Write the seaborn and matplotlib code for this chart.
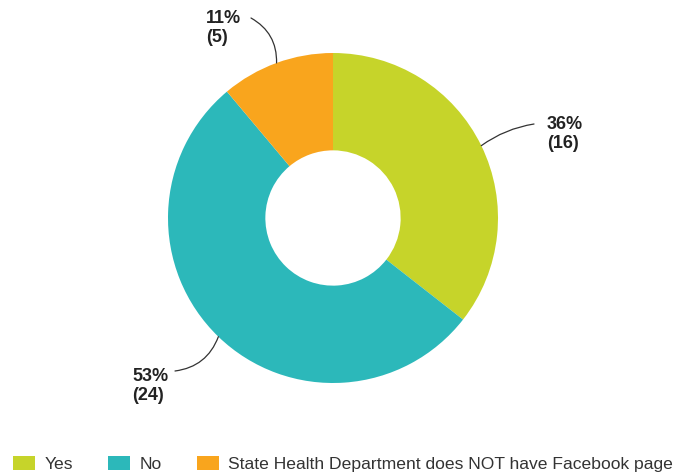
import numpy as np
import matplotlib
matplotlib.use("Agg")
import matplotlib.pyplot as plt
import seaborn as sns
from matplotlib.patches import Patch

sns.set_theme(style="white")
plt.rcParams['font.family'] = ['Liberation Sans', 'DejaVu Sans']

categories = ["Yes", "No", "State Health Department does NOT have Facebook page"]
counts = [16, 24, 5]
percents = [36, 53, 11]
colors = ["#c6d42a", "#2cb8ba", "#f9a51d"]

W, H = 683, 475
fig = plt.figure(figsize=(W / 100, H / 100), dpi=100)
ax = fig.add_axes([0, 0, 1, 1])
cx, cy, R = 333, 257, 165

wedges, _ = ax.pie(counts, colors=colors, startangle=90, counterclock=False,
                   center=(cx, cy), radius=R,
                   wedgeprops=dict(width=R * 0.59, edgecolor='none', linewidth=0))
ax.set_xlim(0, W)
ax.set_ylim(0, H)
ax.set_aspect('equal')
ax.axis('off')

# label text positions (pixels, bottom origin), line endpoints and curvature
label_pos = [(547, 341, 'left'), (132, 89, 'left'), (206, 447, 'left')]
line_end = [(534, 351), (175, 104), (251, 457)]
rads = [0.12, 0.3, -0.3]

for w, cnt, pct, (tx, ty, ha), (lx, ly), rad in zip(wedges, counts, percents, label_pos, line_end, rads):
    ang = np.deg2rad((w.theta1 + w.theta2) / 2)
    px, py = cx + R * np.cos(ang), cy + R * np.sin(ang)
    ax.annotate('', xy=(px, py), xytext=(lx, ly),
                arrowprops=dict(arrowstyle='-', color='#333333', lw=0.9,
                                connectionstyle=f'arc3,rad={rad}',
                                shrinkA=0, shrinkB=0))
    ax.text(tx, ty, f"{pct}%\n({cnt})", ha=ha, va='center', fontsize=13,
            fontweight='bold', color='#222222', linespacing=1.15)

handles = [Patch(facecolor=c, edgecolor='none') for c in colors]
leg = fig.legend(handles, categories, loc='center left', bbox_to_anchor=(13 / W, 11 / H),
                 ncol=3, frameon=False, fontsize=12.6, handlelength=1.25, handleheight=0.85,
                 handletextpad=0.55, columnspacing=2.0, borderpad=0, borderaxespad=0,
                 labelcolor='#333333')

fig.savefig('out.png', dpi=100, facecolor='white')
